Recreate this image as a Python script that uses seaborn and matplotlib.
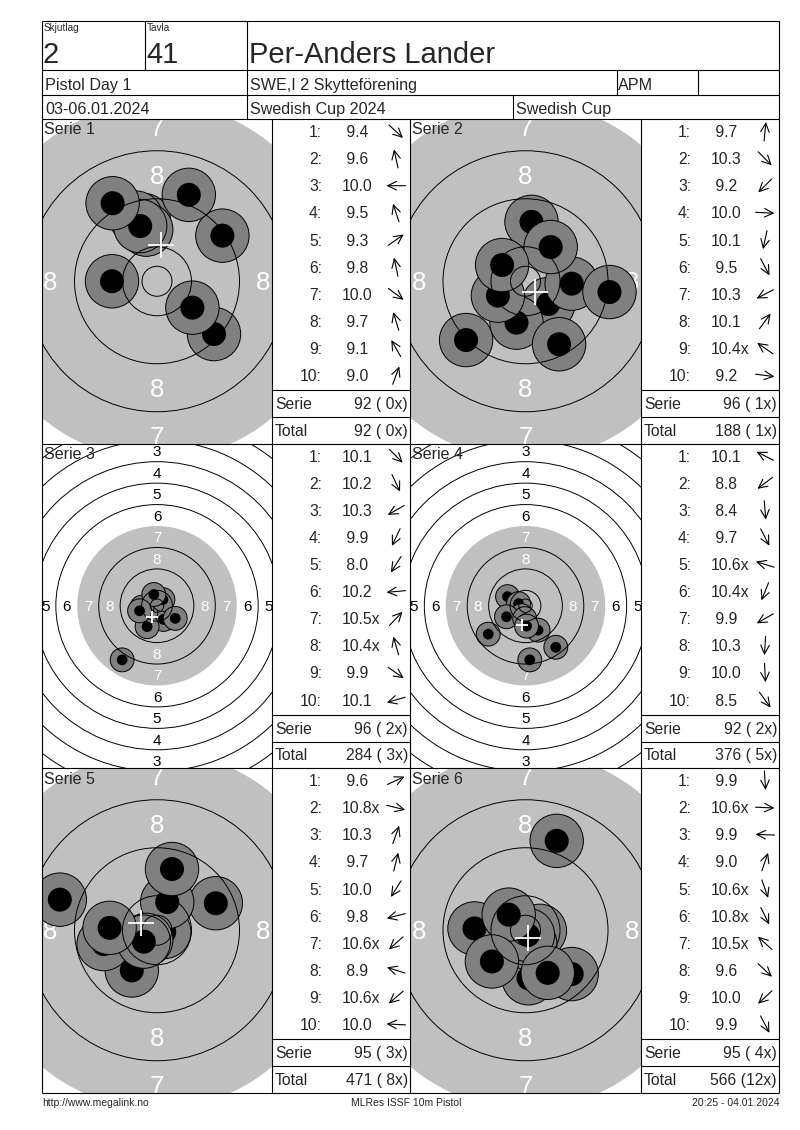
import numpy as np
import matplotlib
matplotlib.use("Agg")
import matplotlib.pyplot as plt
from matplotlib.patches import Circle
import seaborn as sns

# header texts
relay = "2"
lane = "41"
shooter = "Per-Anders Lander"
event = "Pistol Day 1"
club = "SWE,I 2 Skytteförening"
shooter_class = "APM"
dates = "03-06.01.2024"
competition = "Swedish Cup 2024"
cup = "Swedish Cup"
footer_left = "http://www.megalink.no"
footer_mid = "MLRes ISSF 10m Pistol"
footer_right = "20:25 - 04.01.2024"

# shot scores per series
s1_scores = ["9.4", "9.6", "10.0", "9.5", "9.3", "9.8", "10.0", "9.7", "9.1", "9.0"]
s2_scores = ["9.7", "10.3", "9.2", "10.0", "10.1", "9.5", "10.3", "10.1", "10.4x", "9.2"]
s3_scores = ["10.1", "10.2", "10.3", "9.9", "8.0", "10.2", "10.5x", "10.4x", "9.9", "10.1"]
s4_scores = ["10.1", "8.8", "8.4", "9.7", "10.6x", "10.4x", "9.9", "10.3", "10.0", "8.5"]
s5_scores = ["9.6", "10.8x", "10.3", "9.7", "10.0", "9.8", "10.6x", "8.9", "10.6x", "10.0"]
s6_scores = ["9.9", "10.6x", "9.9", "9.0", "10.6x", "10.8x", "10.5x", "9.6", "10.0", "9.9"]

# shot positions, mm from target centre (x right, y up)
s1_x = [9.5, -2.2, -7.5, -3.5, 10.9, -1.8, 5.9, -2.8, -7.4, 5.3]
s1_y = [-8.8, 10.2, 0.0, 10.6, 7.6, 8.6, -4.4, 9.2, 13.0, 14.4]
s2_x = [1.0, 3.8, -9.9, 7.7, -1.5, 5.6, -4.6, 4.2, -3.9, 14.0]
s2_y = [9.9, -3.8, -9.8, -0.4, -6.9, -10.5, -2.4, 5.7, 2.7, -1.8]
s3_x = [4.5, 2.4, -4.2, -3.7, -13.0, -5.6, 2.2, -1.2, 6.8, -6.5]
s3_y = [-4.5, -5.1, -2.4, -7.8, -20.2, -0.5, 2.3, 4.2, -4.7, -1.9]
s4_x = [-6.7, -13.9, 1.6, 4.7, -2.6, -1.5, -7.1, -0.3, 0.4, 11.3]
s4_y = [3.4, -10.6, -20.2, -9.1, 0.8, -3.7, -4.1, -4.8, -7.6, -15.5]
s5_x = [9.8, 1.2, 1.7, 2.5, -4.2, -8.9, -1.8, -16.2, -2.2, -7.9]
s5_y = [4.5, -0.3, 4.7, 10.2, -6.7, -2.3, -1.6, 5.1, -1.9, 0.4]
s6_x = [0.5, 2.4, -8.5, 5.2, 0.8, 0.4, -2.8, 7.7, -5.6, 3.7]
s6_y = [-8.0, -0.1, 0.3, 14.9, -2.3, -0.8, 2.6, -7.3, -5.2, -7.1]

# ISSF 10m pistol target, ring radii in mm (rings 1..10) and inner ten
ring_radii = [77.75, 69.75, 61.75, 53.75, 45.75, 37.75, 29.75, 21.75, 13.75, 5.75]
inner_ten = 2.5
black_radius = 29.75

series = [
    (s1_scores, s1_x, s1_y),
    (s2_scores, s2_x, s2_y),
    (s3_scores, s3_x, s3_y),
    (s4_scores, s4_x, s4_y),
    (s5_scores, s5_x, s5_y),
    (s6_scores, s6_x, s6_y),
]
zoom_ppmm = [6.0, 6.0, 2.68, 2.68, 6.0, 6.0]
ring_label_fs = [18.5, 18.5, 11, 11, 18.5, 18.5]

points = [sum(int(float(s.rstrip("x"))) for s in sc) for sc, _, _ in series]
inners = [sum(s.endswith("x") for s in sc) for sc, _, _ in series]
cum_points = np.cumsum(points)
cum_inners = np.cumsum(inners)

sns.set_theme(style="white")
plt.rcParams["font.family"] = ["Liberation Sans", "DejaVu Sans"]

W, H = 800, 1130
fig = plt.figure(figsize=(W / 100, H / 100), dpi=100)


def px_axes(x0, y0, w, h):
    return fig.add_axes([x0 / W, 1 - (y0 + h) / H, w / W, h / H])


def baseline(cy, fs):
    # vertical centre of digits -> baseline in page pixels
    return cy + 0.358 * fs * 100 / 72


panel_tops = [119, 443.5, 768]
panel_h = 324.5
target_lefts = [42, 410]
target_ws = [230, 231]
table_lefts = [272, 641]
lw = 0.8
fs = 11.3

# targets
for k, (sc, xs, ys) in enumerate(series):
    row, col = divmod(k, 2)
    ppmm = zoom_ppmm[k]
    tw, th = target_ws[col], panel_h
    ax = px_axes(target_lefts[col], panel_tops[row], tw, th)
    ax.set_xlim(-tw / 2 / ppmm, tw / 2 / ppmm)
    ax.set_ylim(-th / 2 / ppmm, th / 2 / ppmm)
    ax.set_axis_off()

    ax.add_patch(Circle((0, 0), black_radius, color="#c0c0c0", lw=0, zorder=0.5))
    for r in ring_radii + [inner_ten]:
        if r == black_radius:
            continue
        ax.add_patch(Circle((0, 0), r, fill=False, ec="black", lw=0.7, zorder=3))

    lfs = ring_label_fs[k]
    cap = 0.716 * lfs * 100 / 72 / ppmm
    for n in range(1, 9):
        rad = (ring_radii[n - 1] + ring_radii[n]) / 2
        colr = "white" if rad < black_radius else "black"
        for px, py in [(0, rad), (0, -rad), (-rad, 0), (rad, 0)]:
            ax.text(px, py - cap / 2, str(n), ha="center", va="baseline",
                    fontsize=lfs, color=colr, clip_on=True, zorder=1)

    for x, y in zip(xs, ys):
        ax.add_patch(Circle((x, y), 4.45, fc="#808080", ec="black", lw=0.7, zorder=2))
        ax.add_patch(Circle((x, y), 2.0, fc="black", lw=0, zorder=2))

    cross_pt = 2 * 2.25 * ppmm * 0.72
    sns.scatterplot(x=[np.mean(xs)], y=[np.mean(ys)], marker="+", s=cross_pt ** 2,
                    color="white", linewidth=1.3, ax=ax, legend=False, zorder=4)

# page overlay for frames, tables and text
page = fig.add_axes([0, 0, 1, 1], facecolor="none")
page.set_xlim(0, W)
page.set_ylim(H, 0)
page.set_axis_off()


def hline(y, x0, x1):
    page.plot([x0, x1], [y, y], color="black", lw=lw, solid_capstyle="butt")


def vline(x, y0, y1):
    page.plot([x, x], [y0, y1], color="black", lw=lw, solid_capstyle="butt")


# header frame
for y in [21, 70, 95]:
    hline(y, 42, 779)
for x in [145]:
    vline(x, 21, 70)
for x in [42, 247, 779]:
    vline(x, 21, 119)
for x in [616.5, 698]:
    vline(x, 70, 95)
vline(513, 95, 119)

page.text(44, 31, "Skjutlag", fontsize=7.2, va="baseline")
page.text(147, 31, "Tavla", fontsize=7.2, va="baseline")
page.text(43, 63, relay, fontsize=21, va="baseline")
page.text(146, 63, lane, fontsize=21, va="baseline")
page.text(249, 63, shooter, fontsize=21, va="baseline")
hfs = 11.6
for x, t in [(45, event), (250, club), (618, shooter_class)]:
    page.text(x, baseline(84, hfs), t, fontsize=hfs, va="baseline")
for x, t in [(45, dates), (250, competition), (516, cup)]:
    page.text(x, baseline(108, hfs), t, fontsize=hfs, va="baseline")

# panel grid
for y in panel_tops + [panel_tops[-1] + panel_h]:
    hline(y, 42, 779)
for x in [42, 272, 410, 641, 779]:
    vline(x, 119, panel_tops[-1] + panel_h)

# score tables
for k, (sc, xs, ys) in enumerate(series):
    row, col = divmod(k, 2)
    top = panel_tops[row]
    tl = table_lefts[col]
    page.text(target_lefts[col] + 2, top + 15.5, f"Serie {k + 1}", fontsize=11.5, va="baseline")
    hline(top + 271, tl, tl + 138)
    hline(top + 298, tl, tl + 138)
    for j in range(10):
        cy = top + 12.5 + j * 27.1
        page.text(tl + 50, baseline(cy, fs), f"{j + 1}:", ha="right", va="baseline", fontsize=fs)
        page.text(tl + 70, baseline(cy, fs), f"{sc[j]:>4}", ha="left", va="baseline", fontsize=fs)
        ang = np.arctan2(ys[j], xs[j])
        dx, dy = 9.5 * np.cos(ang), -9.5 * np.sin(ang)
        cx = tl + 124
        page.annotate("", xy=(cx + dx, cy + dy), xytext=(cx - dx, cy - dy),
                      arrowprops=dict(arrowstyle="->,head_length=0.45,head_width=0.22",
                                      lw=0.8, color="black", shrinkA=0, shrinkB=0,
                                      mutation_scale=14))
    page.text(tl + 3, baseline(top + 284.5, fs), "Serie", fontsize=fs, va="baseline")
    page.text(tl + 136, baseline(top + 284.5, fs), f"{points[k]} ({inners[k]:>2}x)",
              ha="right", va="baseline", fontsize=fs)
    page.text(tl + 3, baseline(top + 311, fs), "Total", fontsize=fs, va="baseline")
    page.text(tl + 136, baseline(top + 311, fs), f"{cum_points[k]} ({cum_inners[k]:>2}x)",
              ha="right", va="baseline", fontsize=fs)

# footer
ffs = 7.5
page.text(42, baseline(1102, ffs), footer_left, fontsize=ffs, va="baseline")
page.text(406, baseline(1102, ffs), footer_mid, fontsize=ffs, va="baseline", ha="center")
page.text(779, baseline(1102, ffs), footer_right, fontsize=ffs, va="baseline", ha="right")

fig.savefig("out.png", dpi=100)
